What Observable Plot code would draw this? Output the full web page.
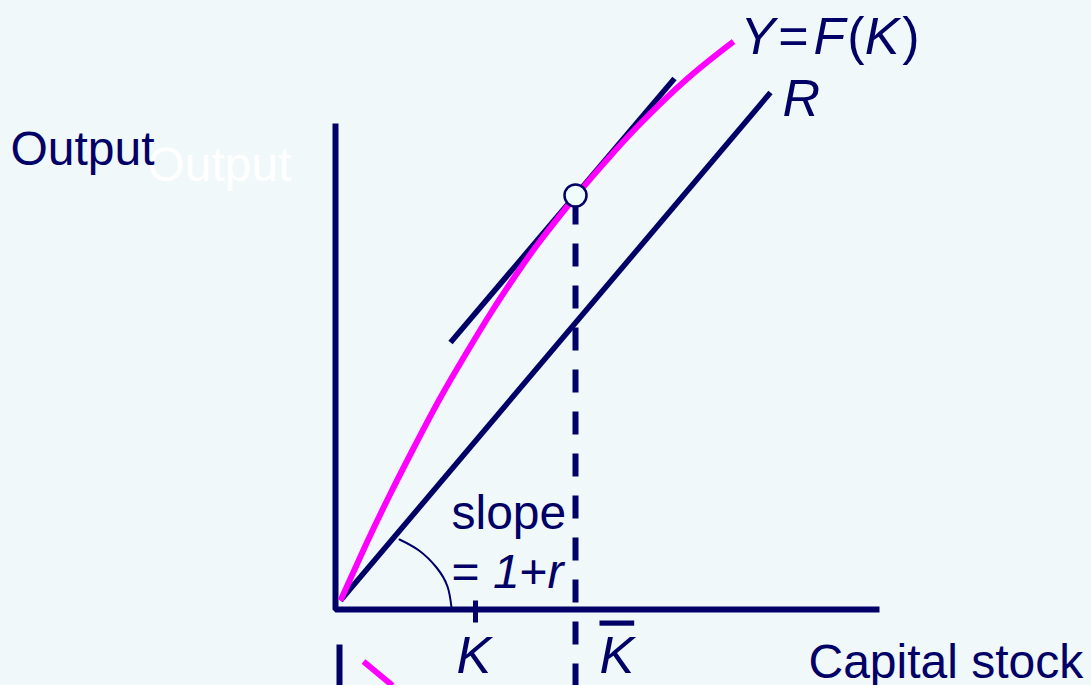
<!DOCTYPE html>
<html><head><meta charset="utf-8">
<script src="https://cdn.jsdelivr.net/npm/d3@7"></script>
<script src="https://cdn.jsdelivr.net/npm/@observablehq/plot@0.6"></script>
<style>html,body{margin:0;padding:0;background:#f0f8fa;overflow:hidden}</style>
</head><body><div id="chart"></div><script>
// ---- data (arbitrary units of capital stock K and output Y) ----
const capital = [0, 0.25, 0.50, 0.75, 1.00, 1.25, 1.50, 1.75, 2.00, 2.35, 2.65, 2.97, 3.47, 3.93];
const output  = [0, 0.55, 1.07, 1.56, 2.03, 2.46, 2.87, 3.25, 3.60, 4.04, 4.39, 4.74, 5.22, 5.59];
const rayK = [0, 4.30];
const rayY = [0, 5.08];
const tangentK = [1.10, 3.34];
const tangentY = [2.58, 5.22];
const kBar = 2.35, yBar = 4.05;
const kTick = 1.35;
const arcK = [0.59, 0.785, 0.96, 1.07, 1.11];
const arcY = [0.61, 0.50, 0.33, 0.14, -0.07];
const axisK = [-0.05, 5.39];
const axisY = [-0.09, 4.77];
const lowerAxisK = -0.01, lowerAxisY = [-0.44, -0.85];
const lowerCurveK = [0.23, 0.52], lowerCurveY = [-0.61, -0.85];

const plainLabels = [
  {text: "Output", k: -3.30, y: 4.36},
  {text: "slope", k: 1.11, y: 0.72},
  {text: "Capital stock", k: 4.68, y: -0.77}
];
const ghostLabels = [{text: "Output", k: -1.93, y: 4.20}];
const eqLabels = [
  {parts: [["= ","n",0],["1","i",0],["+","n",0],["r","i",0]], k: 1.11, y: 0.13}
];
const mathLabels = [
  {parts: [["Y","i",0],["=","n",3],["F","i",5],["(","n",2],["K","i",0],[")","n",3]], k: 4.00, y: 5.47},
  {parts: [["R","i",0]], k: 4.42, y: 4.85},
  {parts: [["K","i",0]], k: 1.16, y: -0.72},
  {parts: [["K","io",0]], k: 2.59, y: -0.72}
];

const NAVY = "#000066", MAGENTA = "#ff00ff", BG = "#f0f8fa";
const FONT = "Liberation Sans, Arial, Helvetica, sans-serif";
const FS = 48, FS_MATH = 52;

const pts = (ks, ys) => ks.map((k, i) => ({k, y: ys[i]}));
const joinParts = d => d.parts.map(p => p[0]).join("");

const chart = Plot.plot({
  width: 1091, height: 685, margin: 0,
  x: {domain: [-3.40, 7.51], axis: null},
  y: {domain: [-0.85, 6.00], axis: null},
  style: {background: BG, fontFamily: FONT},
  marks: [
    Plot.line([{k: axisK[0], y: axisY[1]}, {k: axisK[0], y: axisY[0]}, {k: axisK[1], y: axisY[0]}],
      {x: "k", y: "y", stroke: NAVY, strokeWidth: 6, strokeLinejoin: "miter", strokeLinecap: "butt"}),
    Plot.line(pts([kTick, kTick], [0.0, -0.22]), {x: "k", y: "y", stroke: NAVY, strokeWidth: 5, strokeLinecap: "butt"}),
    Plot.line(pts([kBar, kBar], [yBar, -0.85]), {x: "k", y: "y", stroke: NAVY, strokeWidth: 6,
      strokeDasharray: "23,19", strokeDashoffset: -6, strokeLinecap: "butt"}),
    Plot.line(pts(rayK, rayY), {x: "k", y: "y", stroke: NAVY, strokeWidth: 5.5, strokeLinecap: "butt"}),
    Plot.line(pts(tangentK, tangentY), {x: "k", y: "y", stroke: NAVY, strokeWidth: 5.5, strokeLinecap: "butt"}),
    Plot.line(pts(arcK, arcY), {x: "k", y: "y", stroke: NAVY, strokeWidth: 2, curve: "natural"}),
    Plot.line(pts(capital, output), {x: "k", y: "y", stroke: MAGENTA, strokeWidth: 6, curve: "natural", strokeLinecap: "butt"}),
    Plot.line(pts([lowerAxisK, lowerAxisK], lowerAxisY), {x: "k", y: "y", stroke: NAVY, strokeWidth: 6, strokeLinecap: "butt"}),
    Plot.line(pts(lowerCurveK, lowerCurveY), {x: "k", y: "y", stroke: MAGENTA, strokeWidth: 6, strokeLinecap: "butt"}),
    Plot.dot([{k: kBar, y: yBar}], {x: "k", y: "y", r: 11, fill: "#effcfb", stroke: NAVY, strokeWidth: 2.5}),
    Plot.text(ghostLabels, {x: "k", y: "y", text: "text", fill: "white", fontSize: FS, fontFamily: FONT, textAnchor: "start", lineAnchor: "bottom"}),
    Plot.text(plainLabels, {x: "k", y: "y", text: "text", fill: NAVY, fontSize: FS, fontFamily: FONT, textAnchor: "start", lineAnchor: "bottom"}),
    Plot.text(eqLabels, {x: "k", y: "y", text: joinParts, fill: NAVY, fontSize: FS, fontFamily: FONT, textAnchor: "start", lineAnchor: "bottom"}),
    Plot.text(mathLabels, {x: "k", y: "y", text: joinParts, fill: NAVY, fontSize: FS_MATH, fontFamily: FONT, textAnchor: "start", lineAnchor: "bottom"})
  ]
});
document.getElementById("chart").appendChild(chart);

// mixed italic / upright pieces for the math labels
const groups = d3.select(chart).selectAll('g[aria-label="text"]').nodes();
function styleParts(group, labels) {
  d3.select(group).selectAll("text").each(function(_, i) {
    const lab = labels[i];
    const t = d3.select(this);
    t.text(null);
    lab.parts.forEach(([s, st, dx]) => {
      const ts = t.append("tspan").text(s);
      if (dx) ts.attr("dx", dx);
      if (st.includes("i")) ts.attr("font-style", "italic");
      if (st.includes("o")) ts.style("text-decoration", "overline");
    });
  });
}
styleParts(groups[groups.length - 2], eqLabels);
styleParts(groups[groups.length - 1], mathLabels);
</script></body></html>
